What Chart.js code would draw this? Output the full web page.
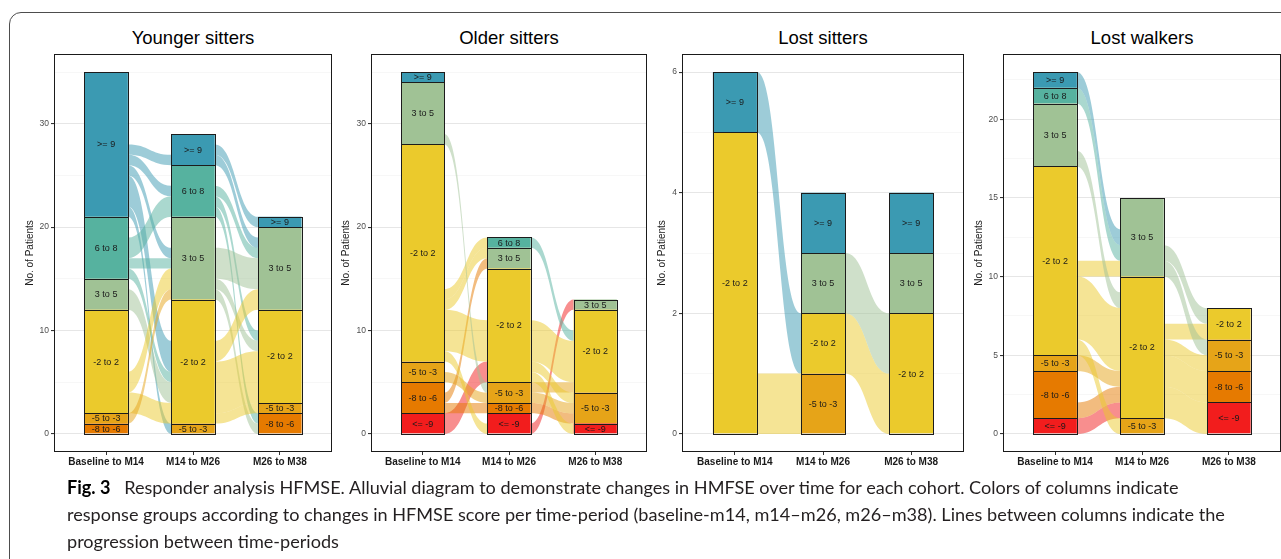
<!DOCTYPE html>
<html>
<head>
<meta charset="utf-8">
<script src="https://cdn.jsdelivr.net/npm/chart.js@4.4.1/dist/chart.umd.min.js"></script>
<style>
    html, body {
        margin: 0;
        padding: 0;
        background: #ffffff;
    }
    body {
        width: 1281px;
        height: 559px;
        position: relative;
        overflow: hidden;
        font-family: "Liberation Sans", Arial, Helvetica, sans-serif;
    }
    .frame {
        position: absolute;
        left: 9px;
        top: 12px;
        width: 1400px;
        height: 600px;
        border: 1px solid #4d4d4d;
        border-top-left-radius: 12px;
        box-sizing: border-box;
    }
    .panel-title {
        position: absolute;
        top: 29px;
        font-size: 18.5px;
        line-height: 18.5px;
        color: #000;
        text-align: center;
        white-space: nowrap;
    }
    canvas {
        position: absolute;
    }
    .caption {
        position: absolute;
        left: 67px;
        top: 474px;
        font-family: Lato, "Open Sans", sans-serif;
        font-size: 18.1px;
        line-height: 27px;
        color: #231f20;
        white-space: nowrap;
    }
    .caption b {
        color: #000;
        margin-right: 9px;
    }
</style>
</head>
<body>
<div class="frame"></div>
<div id="panels"></div>
<div class="caption"><b>Fig. 3</b> Responder analysis HFMSE. Alluvial diagram to demonstrate changes in HMFSE over time for each cohort. Colors of columns indicate<br>response groups according to changes in HFMSE score per time-period (baseline-m14, m14–m26, m26–m38). Lines between columns indicate the<br>progression between time-periods</div>

<script>
// Response groups, bottom of the stack first
const groups = ['<= -9', '-8 to -6', '-5 to -3', '-2 to 2', '3 to 5', '6 to 8', '>= 9'];
const groupColors = ['#F21D1D', '#E67A00', '#E6A418', '#EBCA2C', '#A0C295', '#56B29F', '#3B9AB2'];
const periods = ['Baseline to M14', 'M14 to M26', 'M26 to M38'];
const cohorts = ['Younger sitters', 'Older sitters', 'Lost sitters', 'Lost walkers'];

// Patients per group (rows, same order as groups) and period (columns)
const youngerCounts = [
    [0, 0, 0],
    [1, 0, 2],
    [1, 1, 1],
    [10, 12, 9],
    [3, 8, 8],
    [6, 5, 0],
    [14, 3, 1]
];
const olderCounts = [
    [2, 2, 1],
    [3, 1, 0],
    [2, 2, 3],
    [21, 11, 8],
    [6, 2, 1],
    [0, 1, 0],
    [1, 0, 0]
];
const lostSitterCounts = [
    [0, 0, 0],
    [0, 0, 0],
    [0, 1, 0],
    [5, 1, 2],
    [0, 1, 1],
    [0, 0, 0],
    [1, 1, 1]
];
const lostWalkerCounts = [
    [1, 0, 2],
    [3, 0, 2],
    [1, 1, 2],
    [12, 9, 2],
    [4, 5, 0],
    [1, 0, 0],
    [1, 0, 0]
];

// Flows: [period step, from group, to group, patients]
const youngerFlows = [
    [0, '>= 9', '-5 to -3', 1], [0, '>= 9', '-2 to 2', 3], [0, '>= 9', '3 to 5', 1],
    [0, '>= 9', '6 to 8', 1], [0, '>= 9', '>= 9', 1],
    [0, '6 to 8', '-2 to 2', 1], [0, '6 to 8', '3 to 5', 1], [0, '6 to 8', '6 to 8', 2],
    [0, '3 to 5', '-2 to 2', 2],
    [0, '-2 to 2', '-2 to 2', 2], [0, '-2 to 2', '3 to 5', 2],
    [0, '-5 to -3', '3 to 5', 1],
    [1, '>= 9', '3 to 5', 1], [1, '>= 9', '>= 9', 1],
    [1, '6 to 8', '-8 to -6', 1], [1, '6 to 8', '-2 to 2', 1], [1, '6 to 8', '3 to 5', 1],
    [1, '3 to 5', '-8 to -6', 1], [1, '3 to 5', '-2 to 2', 1], [1, '3 to 5', '3 to 5', 3],
    [1, '-2 to 2', '-5 to -3', 1], [1, '-2 to 2', '-2 to 2', 5], [1, '-2 to 2', '3 to 5', 2]
];
const olderFlows = [
    [0, '<= -9', '-2 to 2', 2],
    [0, '-8 to -6', '-8 to -6', 1], [0, '-8 to -6', '3 to 5', 1],
    [0, '-5 to -3', '-5 to -3', 1],
    [0, '-2 to 2', '<= -9', 1], [0, '-2 to 2', '-2 to 2', 4], [0, '-2 to 2', '3 to 5', 1],
    [0, '-2 to 2', '6 to 8', 1],
    [0, '3 to 5', '-5 to -3', 1],
    [1, '<= -9', '3 to 5', 1],
    [1, '-8 to -6', '-5 to -3', 1],
    [1, '-5 to -3', '-5 to -3', 1], [1, '-5 to -3', '-2 to 2', 1],
    [1, '-2 to 2', '<= -9', 1], [1, '-2 to 2', '-5 to -3', 1], [1, '-2 to 2', '-2 to 2', 4],
    [1, '6 to 8', '-2 to 2', 1]
];
const lostSitterFlows = [
    [0, '>= 9', '-2 to 2', 1],
    [0, '-2 to 2', '-5 to -3', 1],
    [1, '-2 to 2', '-2 to 2', 1],
    [1, '3 to 5', '-2 to 2', 1]
];
const lostWalkerFlows = [
    [0, '<= -9', '-2 to 2', 1],
    [0, '-8 to -6', '-2 to 2', 1],
    [0, '-5 to -3', '-2 to 2', 1],
    [0, '-2 to 2', '-5 to -3', 1], [0, '-2 to 2', '-2 to 2', 4], [0, '-2 to 2', '3 to 5', 1],
    [0, '3 to 5', '-2 to 2', 1],
    [0, '6 to 8', '3 to 5', 1],
    [0, '>= 9', '3 to 5', 1],
    [1, '-2 to 2', '<= -9', 2], [1, '-2 to 2', '-8 to -6', 2], [1, '-2 to 2', '-5 to -3', 1],
    [1, '-2 to 2', '-2 to 2', 1],
    [1, '3 to 5', '-5 to -3', 1], [1, '3 to 5', '-2 to 2', 1]
];

// Y axis tick labels
const youngerTicks = [0, 10, 20, 30];
const olderTicks = [0, 10, 20, 30];
const lostSitterTicks = [0, 2, 4, 6];
const lostWalkerTicks = [0, 5, 10, 15, 20];

const cohortCounts = [youngerCounts, olderCounts, lostSitterCounts, lostWalkerCounts];
const cohortFlows = [youngerFlows, olderFlows, lostSitterFlows, lostWalkerFlows];
const cohortTicks = [youngerTicks, olderTicks, lostSitterTicks, lostWalkerTicks];

// Plot area of each panel on the page
const panelLayout = [
    { left: 54, right: 332, titlePad: 24.7 },
    { left: 371, right: 647, titlePad: 23.7 },
    { left: 682, right: 964, titlePad: 28.7 },
    { left: 1003, right: 1281, titlePad: 24 }
];
const areaTop = 54;
const areaBottom = 452;
const yAxisWidth = 54;
const xAxisHeight = 19;
const padTop = 10;
const padBottom = 4;
const barWidth = 0.5;
const flowAlpha = 0.5;
const outlineColor = '#1c1c1c';
const sansFamily = '"Liberation Sans", Arial, Helvetica, sans-serif';

Chart.defaults.font.family = sansFamily;

function hexToRgba(hex, a) {
    const n = parseInt(hex.slice(1), 16);
    return 'rgba(' + (n >> 16) + ',' + ((n >> 8) & 255) + ',' + (n & 255) + ',' + a + ')';
}

// base[g][p]: bottom of stratum g in column p
function stackBases(counts) {
    const base = counts.map(row => row.map(() => 0));
    periods.forEach((_, p) => {
        let acc = 0;
        counts.forEach((row, g) => {
            base[g][p] = acc;
            acc += row[p];
        });
    });
    return base;
}

const snap = v => Math.round(v) + 0.5;

function makeAlluvialPlugin(counts, flows) {
    const base = stackBases(counts);
    return {
        id: 'alluvial',
        beforeDatasetsDraw(chart) {
            const { ctx, chartArea, scales: { x, y } } = chart;
            ctx.save();
            ctx.beginPath();
            ctx.rect(chartArea.left, chartArea.top, chartArea.right - chartArea.left, chartArea.bottom - chartArea.top);
            ctx.clip();
            for (let t = 0; t < periods.length - 1; t++) {
                const step = flows.filter(f => f[0] === t).map(f => ({
                    from: groups.indexOf(f[1]),
                    to: groups.indexOf(f[2]),
                    n: f[3]
                }));
                // stack the flows inside the left and right strata
                groups.forEach((_, g) => {
                    let yy = base[g][t];
                    step.filter(f => f.from === g).sort((a, b) => a.to - b.to).forEach(f => {
                        f.l0 = yy; yy += f.n; f.l1 = yy;
                    });
                    yy = base[g][t + 1];
                    step.filter(f => f.to === g).sort((a, b) => a.from - b.from).forEach(f => {
                        f.r0 = yy; yy += f.n; f.r1 = yy;
                    });
                });
                const xl = x.getPixelForValue(t + 1 + barWidth / 2);
                const xr = x.getPixelForValue(t + 2 - barWidth / 2);
                const xm = (xl + xr) / 2;
                step.forEach(f => {
                    const lt = y.getPixelForValue(f.l1), lb = y.getPixelForValue(f.l0);
                    const rt = y.getPixelForValue(f.r1), rb = y.getPixelForValue(f.r0);
                    ctx.beginPath();
                    ctx.moveTo(xl, lt);
                    ctx.bezierCurveTo(xm, lt, xm, rt, xr, rt);
                    ctx.lineTo(xr, rb);
                    ctx.bezierCurveTo(xm, rb, xm, lb, xl, lb);
                    ctx.closePath();
                    ctx.fillStyle = hexToRgba(groupColors[f.from], flowAlpha);
                    ctx.fill();
                });
            }
            ctx.restore();
        },
        afterDatasetsDraw(chart) {
            const { ctx, scales: { x, y } } = chart;
            ctx.save();
            // stratum outlines
            ctx.strokeStyle = outlineColor;
            ctx.lineWidth = 1;
            counts.forEach((row, g) => {
                row.forEach((n, p) => {
                    if (n > 0) {
                        const x0 = snap(x.getPixelForValue(p + 1 - barWidth / 2));
                        const x1 = snap(x.getPixelForValue(p + 1 + barWidth / 2));
                        const y0 = snap(y.getPixelForValue(base[g][p] + n));
                        const y1 = snap(y.getPixelForValue(base[g][p]));
                        ctx.strokeRect(x0, y0, x1 - x0, y1 - y0);
                    }
                });
            });
            // stratum labels
            ctx.font = '9px ' + sansFamily;
            ctx.fillStyle = '#1a1a1a';
            ctx.textAlign = 'center';
            ctx.textBaseline = 'middle';
            counts.forEach((row, g) => {
                row.forEach((n, p) => {
                    if (n > 0) {
                        ctx.fillText(groups[g], x.getPixelForValue(p + 1), y.getPixelForValue(base[g][p] + n / 2) + 0.5);
                    }
                });
            });
            ctx.restore();
        },
        afterDraw(chart) {
            const { ctx, chartArea } = chart;
            ctx.save();
            ctx.strokeStyle = '#1a1a1a';
            ctx.lineWidth = 1;
            ctx.strokeRect(Math.round(chartArea.left) + 0.5, Math.round(chartArea.top) + 0.5,
                Math.round(chartArea.right - chartArea.left) - 1, Math.round(chartArea.bottom - chartArea.top) - 1);
            ctx.restore();
        }
    };
}

function buildPanel(i) {
    const counts = cohortCounts[i];
    const flows = cohortFlows[i];
    const majors = cohortTicks[i];
    const lay = panelLayout[i];

    const yMax = Math.max(...periods.map((_, p) => counts.reduce((s, row) => s + row[p], 0)));
    const yMin = -0.05 * yMax;
    const yTop = 1.05 * yMax;
    const half = (majors[1] - majors[0]) / 2;
    const tickValues = [];
    for (let v = majors[0] - half; v <= majors[majors.length - 1] + half + 1e-9; v += half) {
        if (v >= yMin && v <= yTop) tickValues.push(Math.round(v * 100) / 100);
    }
    const isMajor = v => majors.includes(v);

    const title = document.createElement('div');
    title.className = 'panel-title';
    title.textContent = cohorts[i];
    title.style.left = lay.left + 'px';
    title.style.width = (lay.right - lay.left) + 'px';
    document.getElementById('panels').appendChild(title);

    const canvas = document.createElement('canvas');
    const cLeft = lay.left - yAxisWidth;
    const cTop = areaTop - padTop;
    canvas.width = lay.right - cLeft + 2;
    canvas.height = areaBottom - cTop + xAxisHeight + padBottom;
    canvas.style.left = cLeft + 'px';
    canvas.style.top = cTop + 'px';
    document.getElementById('panels').appendChild(canvas);

    new Chart(canvas, {
        type: 'bar',
        data: {
            datasets: groups.map((g, gi) => ({
                label: g,
                data: counts[gi].map((n, p) => ({ x: p + 1, y: n })).filter(d => d.y > 0),
                backgroundColor: groupColors[gi],
                borderWidth: 0,
                barPercentage: barWidth,
                categoryPercentage: 1
            }))
        },
        options: {
            responsive: false,
            animation: false,
            events: [],
            layout: { padding: { top: padTop, bottom: padBottom, left: 0, right: 2 } },
            plugins: {
                legend: { display: false },
                tooltip: { enabled: false }
            },
            scales: {
                x: {
                    type: 'linear',
                    stacked: true,
                    offset: false,
                    min: 0.4,
                    max: periods.length + 0.6,
                    afterBuildTicks: s => { s.ticks = periods.map((_, p) => ({ value: p + 1 })); },
                    afterFit: s => { s.height = xAxisHeight; },
                    ticks: {
                        callback: v => periods[v - 1],
                        font: { size: 10, weight: 'bold' },
                        color: '#1a1a1a',
                        padding: 1,
                        maxRotation: 0,
                        autoSkip: false
                    },
                    grid: { drawOnChartArea: false, offset: false, tickLength: 3, tickColor: '#333333' },
                    border: { display: false }
                },
                y: {
                    type: 'linear',
                    stacked: true,
                    min: yMin,
                    max: yTop,
                    afterBuildTicks: s => { s.ticks = tickValues.map(v => ({ value: v })); },
                    afterFit: s => { s.width = yAxisWidth; },
                    ticks: {
                        callback: v => isMajor(v) ? String(v) : '',
                        font: { size: 8.5 },
                        color: '#4d4d4d',
                        padding: 2,
                        autoSkip: false
                    },
                    grid: {
                        color: c => (c.tick && isMajor(c.tick.value)) ? '#e6e6e6' : '#f3f3f3',
                        lineWidth: c => (c.tick && isMajor(c.tick.value)) ? 1.1 : 0.7,
                        tickColor: c => (c.tick && isMajor(c.tick.value)) ? '#333333' : 'rgba(0,0,0,0)',
                        tickLength: 3
                    },
                    border: { display: false },
                    title: {
                        display: true,
                        text: 'No. of Patients',
                        font: { size: 10 },
                        color: '#1a1a1a',
                        padding: { top: lay.titlePad, bottom: 0 }
                    }
                }
            }
        },
        plugins: [makeAlluvialPlugin(counts, flows)]
    });
}

cohorts.forEach((_, i) => buildPanel(i));
</script>
</body>
</html>
